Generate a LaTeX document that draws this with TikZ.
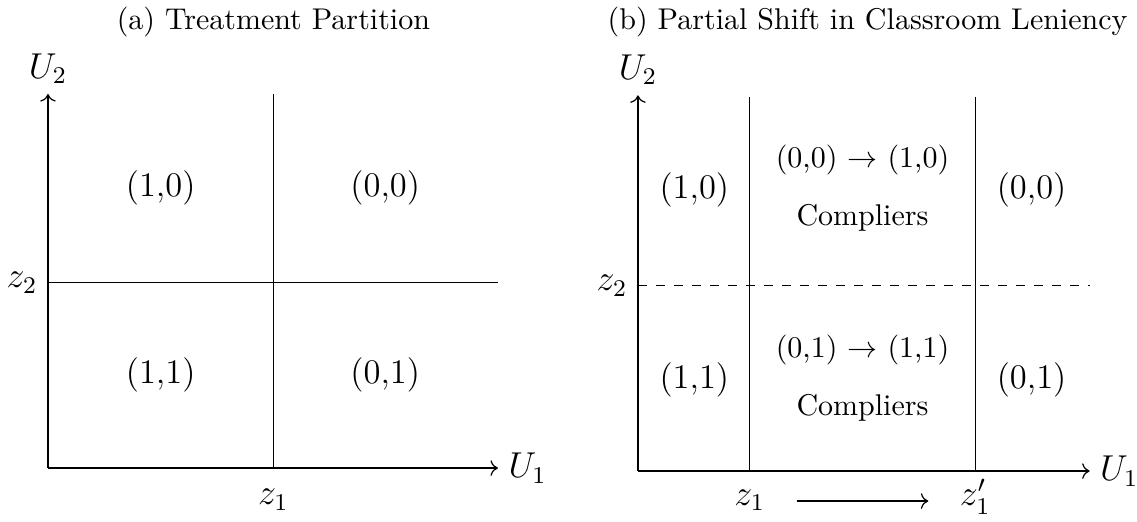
\documentclass[tikz,border=0pt]{standalone}
\usepackage{amsmath}
\usepackage{tikz}
\usetikzlibrary{arrows.meta, positioning}
\tikzset{
    partition/.style={font=\normalsize},
    partition axis/.style={->},
    partition line/.style={thin},
    partition cut/.style={thin, dashed},
    cell label/.style={font=\fontsize{11.5}{14}\selectfont},
    cell note/.style={font=\normalsize},
    axis label/.style={font=\large},
    cut label/.style={font=\large, anchor=base},
    panel title/.style={font=\normalsize},
}

\begin{document}
\begin{tikzpicture}[partition]
    \useasboundingbox (-0.562,-0.621) rectangle (12.755,5.482);
    % (a) treatment partition
    \coordinate (a-o) at (0,0);
    \coordinate (a-x) at (5.27,0);
    \coordinate (a-y) at (0,4.38);
    \coordinate (a-z1) at (2.64,0);
    \coordinate (a-z1top) at (2.64,4.38);
    \coordinate (a-z2) at (0,2.17);
    \coordinate (a-z2end) at (5.27,2.17);
    \draw[partition axis] (a-o) -- (a-x);
    \draw[partition axis] (a-o) -- (a-y);
    \draw[partition line] (a-z1) -- (a-z1top);
    \draw[partition line] (a-z2) -- (a-z2end);
    \node[axis label, anchor=west] (a-u1) at (a-x) {$U_1$};
    \node[axis label, anchor=south] (a-u2) at (a-y) {$U_2$};
    \node[axis label, anchor=east] (a-z2lab) at (a-z2) {$z_2$};
    \node[cut label] (a-z1lab) at ([yshift=-12.3pt]a-z1) {$z_1$};
    \node[cell label] (a-10) at (1.32,3.28) {(1,0)};
    \node[cell label] (a-00) at (3.95,3.28) {(0,0)};
    \node[cell label] (a-11) at (1.32,1.09) {(1,1)};
    \node[cell label] (a-01) at (3.95,1.09) {(0,1)};
    \node[panel title] (a-title) at (2.64,5.22) {(a) Treatment Partition};

    % (b) partial shift
    \begin{scope}[shift={(6.91,-0.035)}]
        \coordinate (b-o) at (0,0);
        \coordinate (b-x) at (5.29,0);
        \coordinate (b-y) at (0,4.40);
        \coordinate (b-z1) at (1.31,0);
        \coordinate (b-z1top) at (1.31,4.38);
        \coordinate (b-z1p) at (3.95,0);
        \coordinate (b-z1ptop) at (3.95,4.38);
        \coordinate (b-z2) at (0,2.17);
        \coordinate (b-z2end) at (5.29,2.17);
        \draw[partition axis] (b-o) -- (b-x);
        \draw[partition axis] (b-o) -- (b-y);
        \draw[partition line] (b-z1) -- (b-z1top);
        \draw[partition line] (b-z1p) -- (b-z1ptop);
        \draw[partition cut] (b-z2) -- (b-z2end);
        \node[axis label, anchor=west] (b-u1) at (b-x) {$U_1$};
        \node[axis label, anchor=south] (b-u2) at (b-y) {$U_2$};
        \node[axis label, anchor=east] (b-z2lab) at (b-z2) {$z_2$};
        \node[cut label] (b-z1lab) at ([yshift=-11.5pt]b-z1) {$z_1$};
        \node[cut label] (b-z1plab) at ([yshift=-11.5pt]b-z1p) {$z_1'$};
        \coordinate (b-shift) at ([xshift=7pt, yshift=1.5pt]b-z1lab.base east);
        \draw[->, shorten >=7pt] (b-shift) -- (b-shift -| b-z1plab.west);
        \node[cell label] (b-10) at (0.66,3.29) {(1,0)};
        \node[cell label] (b-00) at (4.61,3.29) {(0,0)};
        \node[cell label] (b-11) at (0.66,1.07) {(1,1)};
        \node[cell label] (b-01) at (4.61,1.07) {(0,1)};
        \node[cell note] (b-move-top) at (2.63,3.64) {(0,0) $\rightarrow$ (1,0)};
        \node[cell note] (b-comp-top) at (2.63,2.96) {Compliers};
        \node[cell note] (b-move-bot) at (2.63,1.42) {(0,1) $\rightarrow$ (1,1)};
        \node[cell note] (b-comp-bot) at (2.63,0.74) {Compliers};
        \node[panel title] (b-title) at (2.69,5.255) {(b) Partial Shift in Classroom Leniency};
    \end{scope}
\end{tikzpicture}
\end{document}
